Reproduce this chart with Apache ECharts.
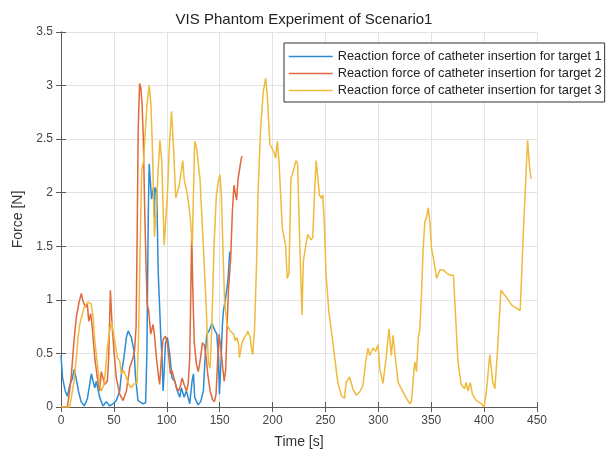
<!DOCTYPE html>
<html>
<head>
<meta charset="utf-8">
<script src="https://cdn.jsdelivr.net/npm/echarts@6/dist/echarts.min.js"></script>
<style>
  html, body { margin: 0; padding: 0; background: #fff; }
  #chart { width: 609px; height: 454px; }
</style>
</head>
<body>
<div id="chart"></div>
<script>
// [time (s), force (N)]
const target1 = [
  [0, 0.48], [1.5, 0.27], [4, 0.15], [6, 0.1], [8.5, 0.21], [10.5, 0.26], [12.5, 0.35], [14.5, 0.26],
  [16.7, 0.14], [19, 0.05], [22, 0.01], [25, 0.08], [28.7, 0.31], [30.3, 0.24], [31.9, 0.18], [33.4, 0.24],
  [36.6, 0.09], [39.7, 0.01], [42.9, 0.05], [46, 0.01], [49.2, 0.03], [52.3, 0.06], [55.5, 0.15], [57.1, 0.31],
  [59.6, 0.47], [61.8, 0.65], [63.5, 0.71], [66.5, 0.65], [69.1, 0.52], [70.3, 0.3], [72.8, 0.06], [77.6, 0.03],
  [80, 0.04], [81.2, 0.5], [82.5, 1.8], [83.4, 2.27], [84.4, 2.12], [85.6, 1.94], [86.6, 2.0], [87.5, 2.05],
  [88.1, 1.77], [89, 2.05], [90.6, 2.0], [91.8, 1.29], [92.8, 1.04], [94.3, 0.67], [95.5, 0.46], [96.5, 0.15],
  [97.4, 0.31], [98.7, 0.59], [100.6, 0.65], [102.8, 0.49], [105, 0.27], [107.5, 0.24], [110, 0.15], [112.3, 0.09],
  [113.8, 0.18], [116.4, 0.09], [118.6, 0.15], [121.7, 0.03], [123.9, 0.24], [125.2, 0.31], [126.4, 0.09], [129.6, 0.02],
  [132.1, 0.05], [134.6, 0.15], [136.2, 0.46], [137.8, 0.68], [140, 0.71], [142.5, 0.78], [144.1, 0.79], [145.7, 0.71],
  [147.3, 0.68], [148.8, 0.46], [149.8, 0.12], [151.4, 0.46], [152.6, 0.77], [153.6, 0.9], [155.2, 0.99], [156.8, 1.1],
  [158, 1.2], [159.5, 1.45]
];
const target2 = [
  [0, 0], [6, 0], [8.2, 0.15], [9.8, 0.3], [12.3, 0.62], [14.5, 0.84], [16.7, 0.96], [19.2, 1.06],
  [20.8, 0.99], [23, 0.93], [24.9, 0.96], [26.2, 0.8], [28.1, 0.87], [29.6, 0.74], [31.9, 0.46], [34.4, 0.27],
  [36.6, 0.15], [38.1, 0.33], [41.3, 0.21], [43.8, 0.24], [45.1, 0.46], [46.7, 1.09], [48.2, 0.78], [50.1, 0.52],
  [52.3, 0.27], [55.5, 0.12], [58.7, 0.06], [61.8, 0.15], [65, 0.37], [68.1, 0.46], [69.5, 0.52], [71, 0.75],
  [72, 1.6], [73, 2.6], [74.3, 3.02], [75.5, 2.98], [76.6, 2.83], [77.8, 2.52], [79, 1.9], [80.5, 1.28],
  [81.5, 0.96], [82.9, 0.9], [84.8, 0.68], [87, 0.77], [88.6, 0.65], [90.2, 0.46], [92.4, 0.27], [93.3, 0.21],
  [94.9, 0.46], [96.5, 0.63], [98.7, 0.66], [100.6, 0.59], [101.9, 0.46], [103.4, 0.31], [105, 0.34], [106.9, 0.27],
  [109.1, 0.18], [111.3, 0.15], [113.2, 0.21], [114.5, 0.27], [116.4, 0.21], [118.6, 0.15], [120.2, 0.21], [121.7, 0.46],
  [122.6, 1.0], [123.6, 1.62], [124.6, 1.1], [126, 0.6], [128, 0.4], [129.8, 0.33], [131.8, 0.45], [133.7, 0.6],
  [135.4, 0.58], [137, 0.48], [138.7, 0.31], [141, 0.15], [143.2, 0.07], [145.1, 0.05], [146.6, 0.12], [148.2, 0.46],
  [149.5, 0.68], [150.6, 0.68], [152, 0.46], [154.2, 0.24], [155.7, 0.35], [157, 0.75], [158.3, 1.09], [160.4, 1.38],
  [162, 1.82], [163.5, 2.07], [166, 1.93], [167.3, 2.12], [168.2, 2.13], [170.4, 2.32], [171.4, 2.34]
];
const target3 = [
  [0, 0], [8.2, 0], [9.8, 0.09], [12.3, 0.24], [14.5, 0.46], [16.1, 0.65], [17.7, 0.77], [21.8, 0.93],
  [25.5, 0.98], [28.7, 0.96], [30.3, 0.84], [31.9, 0.62], [34.4, 0.4], [36.6, 0.21], [38.1, 0.15], [40.7, 0.21],
  [42.3, 0.37], [43.8, 0.56], [46, 0.71], [47.6, 0.8], [49.2, 0.71], [50.8, 0.62], [53.3, 0.46], [55.5, 0.43],
  [57.1, 0.31], [59.3, 0.34], [61.8, 0.27], [64, 0.21], [66.5, 0.18], [69.4, 0.22], [71.9, 0.22], [73.3, 0.65],
  [75, 1.59], [76.3, 2.21], [78.1, 2.3], [79.4, 2.52], [80.3, 2.67], [81.3, 2.83], [83.4, 3.0], [85, 2.83],
  [86.6, 2.36], [88.3, 1.59], [90, 1.83], [91.8, 2.2], [93.5, 2.49], [95.3, 2.29], [97.5, 1.51], [100.6, 1.98],
  [102.5, 2.45], [104.5, 2.76], [106.5, 2.4], [107.9, 2.07], [108.5, 1.95], [111.6, 2.06], [113.2, 2.07], [115.1, 2.3],
  [116.4, 2.13], [119.5, 1.98], [122, 1.79], [124.2, 1.51], [125.2, 1.98], [126.4, 2.48], [128.3, 2.41], [130.5, 2.2],
  [131.4, 2.13], [133.7, 1.67], [136.8, 1.04], [139.3, 0.42], [140.9, 0.36], [142.5, 0.73], [144.7, 1.51], [146.9, 1.98],
  [148.7, 2.1], [150.3, 2.17], [151.6, 1.98], [153.5, 1.35], [154.7, 0.98], [157, 0.77], [160, 0.71], [163.1, 0.68],
  [164.6, 0.62], [166.2, 0.65], [167.8, 0.59], [168.7, 0.46], [170.9, 0.59], [173.4, 0.65], [175.6, 0.68], [176.6, 0.71],
  [178.8, 0.65], [180.4, 0.52], [181.3, 0.49], [183, 0.73], [184.9, 1.35], [186.2, 1.98], [188.7, 2.6], [191.2, 2.94],
  [193.4, 3.07], [195, 2.91], [197.5, 2.45], [201.3, 2.38], [202.9, 2.32], [204.5, 2.48], [206.1, 2.29], [209.2, 1.67],
  [212.3, 1.51], [213.9, 1.2], [215.5, 1.25], [217.4, 2.14], [218.4, 2.16], [219.6, 2.2], [222.1, 2.3], [223.7, 2.27],
  [225.3, 1.67], [227.8, 0.86], [229.1, 1.36], [231, 1.48], [233.2, 1.61], [236.4, 1.56], [238, 1.58], [239.6, 1.98],
  [241.2, 2.3], [242.7, 2.31], [244.3, 1.98], [245.9, 1.95], [247.5, 1.98], [249.1, 1.67], [250.6, 1.23], [253.2, 0.89],
  [255.4, 0.73], [258.5, 0.48], [261.7, 0.23], [264.9, 0.11], [268, 0.08], [269.6, 0.23], [272.8, 0.28], [275.9, 0.17],
  [279.1, 0.11], [282.3, 0.14], [285.4, 0.2], [288, 0.42], [290.2, 0.55], [291.8, 0.48], [294.9, 0.55], [297.5, 0.52],
  [299.7, 0.58], [301.3, 0.36], [304.4, 0.22], [307.6, 0.48], [310.1, 0.73], [312.3, 0.48], [313.9, 0.67], [316.5, 0.42],
  [318.7, 0.23], [321.8, 0.17], [326.6, 0.08], [329.8, 0.03], [331.3, 0.05], [333.6, 0.33], [334.5, 0.42], [336.1, 0.33],
  [337.7, 0.64], [339.3, 0.73], [340.8, 1.05], [342.4, 1.48], [344, 1.73], [345.6, 1.77], [347.2, 1.86], [348.7, 1.73],
  [350.3, 1.48], [352.6, 1.36], [355.1, 1.2], [356.7, 1.2], [358.2, 1.28], [361.4, 1.28], [364.6, 1.25], [367.7, 1.23],
  [371, 1.23], [373.6, 0.74], [375.2, 0.43], [378.3, 0.21], [381.5, 0.17], [383.1, 0.23], [384.7, 0.15], [386.9, 0.23],
  [388.9, 0.12], [392.7, 0.06], [397.5, 0.03], [400, 0], [402.2, 0.15], [405.4, 0.49], [408, 0.24], [410.2, 0.17],
  [412.4, 0.49], [415.9, 1.09], [419.7, 1.04], [422.9, 1.0], [426.1, 0.95], [430.9, 0.92], [434.1, 0.9], [437.3, 1.68],
  [441.1, 2.49], [443, 2.24], [444.3, 2.13]
];
const seriesNames = [
  'Reaction force of catheter insertion for target 1',
  'Reaction force of catheter insertion for target 2',
  'Reaction force of catheter insertion for target 3'
];
const seriesColors = ['#2b8cd6', '#e0683a', '#f0ba3c'];

const font = '"Liberation Sans", Arial, sans-serif';
const chart = echarts.init(document.getElementById('chart'));

const frameAxis = {
  min: 0,
  type: 'value',
  axisLine: { show: true, lineStyle: { color: '#5a5a5a', width: 1 } },
  axisTick: { show: true, inside: true, length: 5, lineStyle: { color: '#5a5a5a' } },
  axisLabel: { show: false },
  splitLine: { show: false }
};

const option = {
  backgroundColor: '#fff',
  animation: false,
  title: {
    text: 'VIS Phantom Experiment of Scenario1',
    left: 299,
    textAlign: 'center',
    top: 7,
    textStyle: { fontFamily: font, fontSize: 15, fontWeight: 'normal', color: '#222' }
  },
  legend: {
    orient: 'vertical',
    left: 284,
    top: 43,
    padding: [7, 3, 5, 4],
    itemWidth: 44,
    itemHeight: 14,
    itemGap: 4,
    backgroundColor: '#fff',
    borderColor: '#333',
    borderWidth: 1,
    itemStyle: { opacity: 0 },
    lineStyle: { width: 1.5 },
    textStyle: { fontFamily: font, fontSize: 12.8, color: '#222' },
    data: seriesNames
  },
  grid: { left: 61, right: 72, top: 32, bottom: 47 },
  xAxis: [
    {
      type: 'value',
      min: 0,
      max: 450,
      interval: 50,
      name: 'Time [s]',
      nameLocation: 'middle',
      nameGap: 28,
      nameTextStyle: { fontFamily: font, fontSize: 14, color: '#333' },
      axisLine: { show: true, lineStyle: { color: '#5a5a5a', width: 1 } },
      axisTick: { show: true, inside: true, length: 5, lineStyle: { color: '#5a5a5a' } },
      axisLabel: { fontFamily: font, fontSize: 12, color: '#444', margin: 8 },
      splitLine: { show: true, lineStyle: { color: '#e3e3e3', width: 1 } }
    },
    Object.assign({}, frameAxis, { position: 'top', max: 450, interval: 50 })
  ],
  yAxis: [
    {
      type: 'value',
      min: 0,
      max: 3.5,
      interval: 0.5,
      name: 'Force [N]',
      nameLocation: 'middle',
      nameGap: 30,
      nameTextStyle: { fontFamily: font, fontSize: 14, color: '#333' },
      axisLine: { show: true, lineStyle: { color: '#5a5a5a', width: 1 } },
      axisTick: { show: true, inside: true, length: 5, lineStyle: { color: '#5a5a5a' } },
      axisLabel: { fontFamily: font, fontSize: 12, color: '#444', margin: 8 },
      splitLine: { show: true, lineStyle: { color: '#e3e3e3', width: 1 } }
    },
    Object.assign({}, frameAxis, { position: 'right', max: 3.5, interval: 0.5 })
  ],
  series: [target1, target2, target3].map((d, i) => ({
    name: seriesNames[i],
    type: 'line',
    data: d,
    symbol: 'none',
    color: seriesColors[i],
    lineStyle: { width: 1.5, color: seriesColors[i] },
    z: 2 + i
  }))
};

chart.setOption(option);
</script>
</body>
</html>
